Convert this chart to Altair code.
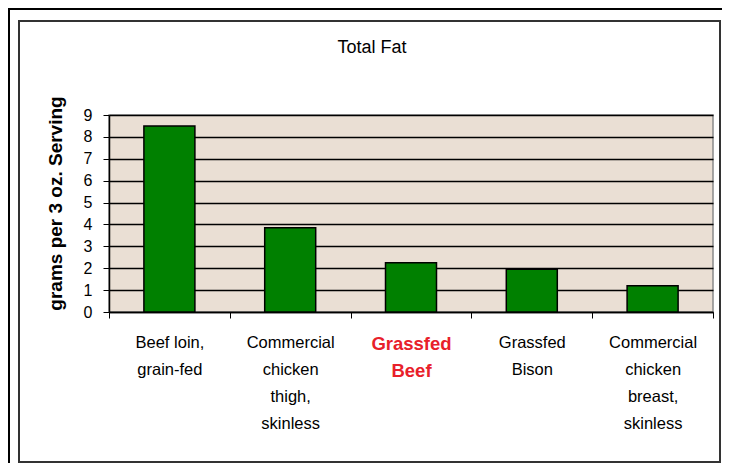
import altair as alt
import pandas as pd

chart_title = "Total Fat"
categories = ["Beef loin,|grain-fed", "Commercial|chicken|thigh,|skinless",
              "Grassfed|Beef", "Grassfed|Bison", "Commercial|chicken|breast,|skinless"]
values = [8.5, 3.85, 2.25, 1.95, 1.2]
highlight = "Grassfed|Beef"
y_ticks = [0, 1, 2, 3, 4, 5, 6, 7, 8, 9]

df = pd.DataFrame({"food": categories, "fat": values})

W, H = 604, 197
FONT = "Liberation Sans"

bars = alt.Chart(df).mark_bar(
    color="#008000", stroke="#000000", strokeWidth=1.5, size=51
).encode(
    x=alt.X("food:N", sort=categories, title=None,
            scale=alt.Scale(paddingInner=0, paddingOuter=0),
            axis=alt.Axis(
                labelAngle=0, tickBand="extent", tickSize=6, tickColor="#000",
                domainColor="#000", domainWidth=1.5, labelPadding=16,
                labelExpr="split(datum.label, '|')",
                labelLineHeight=27, labelFont=FONT,
                labelColor=alt.expr(f"datum.value == '{highlight}' ? '#e8202a' : '#000000'"),
                labelFontWeight=alt.expr(f"datum.value == '{highlight}' ? 'bold' : 'normal'"),
                labelFontSize=alt.expr(f"datum.value == '{highlight}' ? 18.5 : 16.5"),
                labelBaseline="top")),
    y=alt.Y("fat:Q", title="grams per 3 oz. Serving",
            scale=alt.Scale(domain=[0, 9], nice=False),
            axis=alt.Axis(values=y_ticks, grid=True, gridColor="#000", gridWidth=1.5,
                          tickSize=6, tickColor="#000", domainColor="#000", domainWidth=1.5,
                          labelFont=FONT, labelFontSize=16, labelColor="#000", labelPadding=11,
                          titleFont=FONT, titleFontSize=19, titleFontWeight="bold",
                          titleColor="#000", titlePadding=18, titleY=88))
)

frame_df = pd.DataFrame({"k": [0]})
title_df = pd.DataFrame({"t": [chart_title]})

title_mark = alt.Chart(title_df).mark_text(
    font=FONT, fontSize=18, color="#000", align="center", baseline="middle"
).encode(text="t:N", x=alt.value(263), y=alt.value(-67))

frame = alt.Chart(frame_df).mark_rect(
    fill=None, stroke="#333333", strokeWidth=2
).encode(x=alt.value(-90), x2=alt.value(611), y=alt.value(-94), y2=alt.value(347))

top_line = alt.Chart(frame_df).mark_rule(color="#000", strokeWidth=2).encode(
    x=alt.value(-101), x2=alt.value(613), y=alt.value(-106))
left_line = alt.Chart(frame_df).mark_rule(color="#000", strokeWidth=2).encode(
    x=alt.value(-100), y=alt.value(-106), y2=alt.value(348))

chart = alt.layer(bars, title_mark, frame, top_line, left_line).properties(
    width=W, height=H,
    autosize=alt.AutoSizeParams(type="none"),
    padding={"left": 101, "top": 107, "right": 9, "bottom": 151},
    background="#ffffff",
).configure_view(
    fill="#EADFD4", stroke="#8a8a8a", strokeWidth=1.5
)

chart.save("out.html", embed_options={"renderer": "svg", "actions": False})
